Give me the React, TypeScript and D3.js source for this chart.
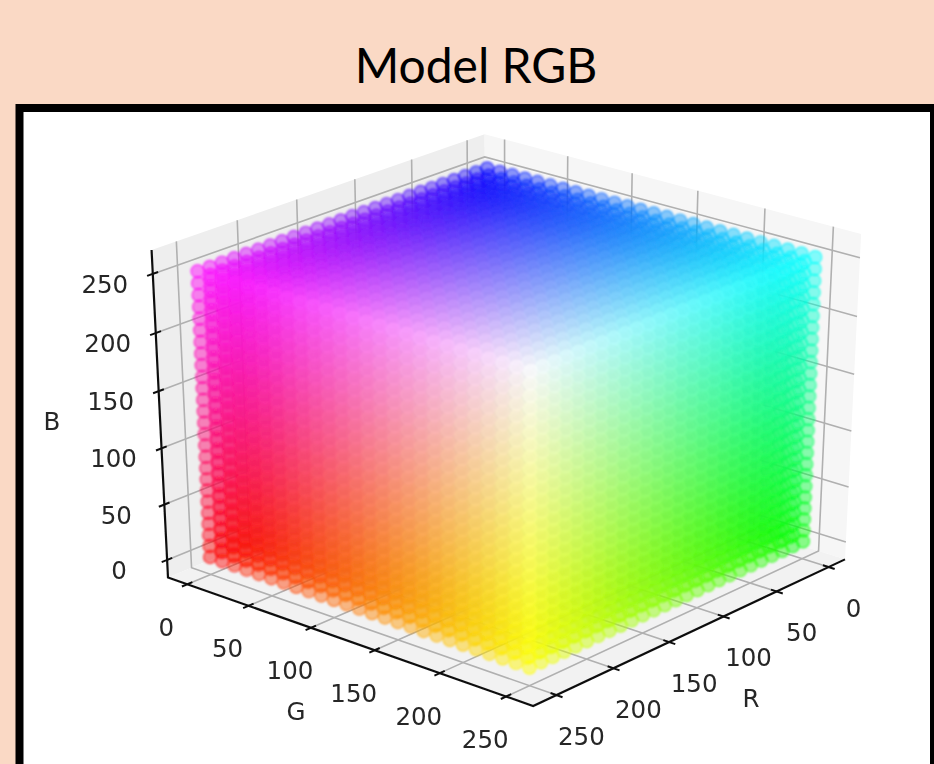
import React, { useMemo } from "react";
import * as d3 from "d3";

// colour levels of the sampled cube, shared by the R, G and B axes
const levels = [
  0, 10, 20, 30, 40, 50, 60, 70, 80, 90, 100, 110, 120, 130, 140, 150, 160,
  170, 180, 190, 200, 210, 220, 230, 240, 250,
];
const tickValues = [0, 50, 100, 150, 200, 250];
const axisLimits = [-16, 270];

const WIDTH = 934;
const HEIGHT = 764;
const ELEV = (28 * Math.PI) / 180;
const AZIM = (41 * Math.PI) / 180;
const DIST = 10;

const toBox = d3.scaleLinear().domain(axisLimits).range([0, 1]);

// same camera model as mplot3d: eye looking at the middle of the unit box
const n = [Math.cos(ELEV) * Math.cos(AZIM), Math.cos(ELEV) * Math.sin(AZIM), Math.sin(ELEV)];
const u = [-Math.sin(AZIM), Math.cos(AZIM), 0];
const v = [-Math.sin(ELEV) * Math.cos(AZIM), -Math.sin(ELEV) * Math.sin(AZIM), Math.cos(ELEV)];

const camera = (bx: number, by: number, bz: number) => {
  const d = [bx - 0.5, by - 0.5, bz - 0.5];
  const dot = (a: number[]) => a[0] * d[0] + a[1] * d[1] + a[2] * d[2];
  const depth = DIST - dot(n);
  return { x: dot(u) / depth, y: dot(v) / depth, depth };
};

const screenX = d3
  .scaleLinear()
  .domain([camera(1, 0, 0).x, camera(0, 1, 0).x])
  .range([168, 845]);
const screenY = d3
  .scaleLinear()
  .domain([camera(1, 1, 0).y, camera(1, 0, 1).y])
  .range([706, 250]);

type P = [number, number];
const boxPoint = (bx: number, by: number, bz: number): P => {
  const c = camera(bx, by, bz);
  return [screenX(c.x), screenY(c.y)];
};

const line = d3.line();

const Pane = ({ corners, fill }: { corners: number[][]; fill: string }) => (
  <path
    d={line(corners.map(c => boxPoint(c[0], c[1], c[2]))) + "Z"}
    fill={fill}
  />
);

const Path3 = ({ pts, stroke, width }: { pts: number[][]; stroke: string; width: number }) => (
  <path
    d={line(pts.map(c => boxPoint(c[0], c[1], c[2])))!}
    fill="none"
    stroke={stroke}
    strokeWidth={width}
  />
);

const Dots = () => {
  const dots = useMemo(() => {
    const out: { x: number; y: number; depth: number; color: string }[] = [];
    levels.forEach(r =>
      levels.forEach(g =>
        levels.forEach(b => {
          const c = camera(toBox(r), toBox(g), toBox(b));
          out.push({
            x: screenX(c.x),
            y: screenY(c.y),
            depth: c.depth,
            color: d3.rgb((r * 255) / 250, (g * 255) / 250, (b * 255) / 250).formatHex(),
          });
        })
      )
    );
    return out.sort((a, b) => b.depth - a.depth);
  }, []);

  const alpha = d3
    .scaleLinear()
    .domain(d3.extent(dots, d => d.depth) as [number, number])
    .range([0.5, 0.42]);

  return (
    <g filter="url(#soft)">
      {dots.map((d, i) => (
        <circle
          key={i}
          cx={d.x}
          cy={d.y}
          r={6.6}
          fill={d.color}
          fillOpacity={alpha(d.depth)}
          stroke={d.color}
          strokeOpacity={alpha(d.depth) * 1.5}
          strokeWidth={1.2}
        />
      ))}
    </g>
  );
};

const labelStyle = { fontFamily: "DejaVu Sans", fontSize: 24.5, fill: "#262626" };

export default function App() {
  const b = tickValues.map(t => ({ t, p: toBox(t) }));
  return (
    <svg
      width={WIDTH}
      height={HEIGHT}
      style={{ position: "absolute", left: 0, top: 0, display: "block" }}
    >
      <defs>
        <filter id="soft" x="-5%" y="-5%" width="110%" height="110%">
          <feGaussianBlur stdDeviation={0.8} />
        </filter>
        <filter id="softText" x="-5%" y="-5%" width="110%" height="110%">
          <feGaussianBlur stdDeviation={0.6} />
        </filter>
      </defs>

      <rect width={WIDTH} height={HEIGHT} fill="#fad9c5" />
      <text
        x={476}
        y={83}
        textAnchor="middle"
        style={{ fontFamily: "Lato", fontSize: 48, fill: "#000" }}
      >
        Model RGB
      </text>
      <rect x={19.5} y={108} width={914.5} height={700} fill="#fff" stroke="#000" strokeWidth={8} />

      <g filter="url(#softText)">
        <Pane corners={[[1, 0, 0], [0, 0, 0], [0, 0, 1], [1, 0, 1]]} fill="#eeeeee" />
        <Pane corners={[[0, 0, 0], [0, 1, 0], [0, 1, 1], [0, 0, 1]]} fill="#f6f6f6" />
        <Pane corners={[[1, 0, 0], [1, 1, 0], [0, 1, 0], [0, 0, 0]]} fill="#f2f2f2" />

        {b.map(({ t, p }) => (
          <g key={t}>
            <Path3 pts={[[1, p, 0], [0, p, 0], [0, p, 1]]} stroke="#b0b0b0" width={1.6} />
            <Path3 pts={[[p, 1, 0], [p, 0, 0], [p, 0, 1]]} stroke="#b0b0b0" width={1.6} />
            <Path3 pts={[[1, 0, p], [0, 0, p], [0, 1, p]]} stroke="#b0b0b0" width={1.6} />
          </g>
        ))}

        <Path3 pts={[[1, 0, 1], [1, 0, 0], [1, 1, 0], [0, 1, 0]]} stroke="#111" width={2.2} />

        {b.map(({ t, p }) => (
          <g key={t}>
            <Path3 pts={[[1.016, p, 0], [0.985, p, 0]]} stroke="#111" width={2} />
            <Path3 pts={[[p, 1.016, 0], [p, 0.985, 0]]} stroke="#111" width={2} />
            <Path3 pts={[[1.016, 0, p], [0.985, 0, p]]} stroke="#111" width={2} />
          </g>
        ))}

        {b.map(({ t, p }) => {
          const g = boxPoint(1, p, 0);
          const r = boxPoint(p, 1, 0);
          const z = boxPoint(1, 0, p);
          return (
            <g key={t} style={labelStyle} textAnchor="middle" dominantBaseline="central">
              <text x={g[0] - 21} y={g[1] + 43}>{t}</text>
              <text x={r[0] + 25} y={r[1] + 41}>{t}</text>
              <text x={z[0] - 48} y={z[1] + 10.5}>{t}</text>
            </g>
          );
        })}
        <g style={labelStyle} textAnchor="middle" dominantBaseline="central">
          <text x={52} y={421}>B</text>
          <text x={296} y={711}>G</text>
          <text x={751} y={698}>R</text>
        </g>
      </g>

      <Dots />
    </svg>
  );
}
